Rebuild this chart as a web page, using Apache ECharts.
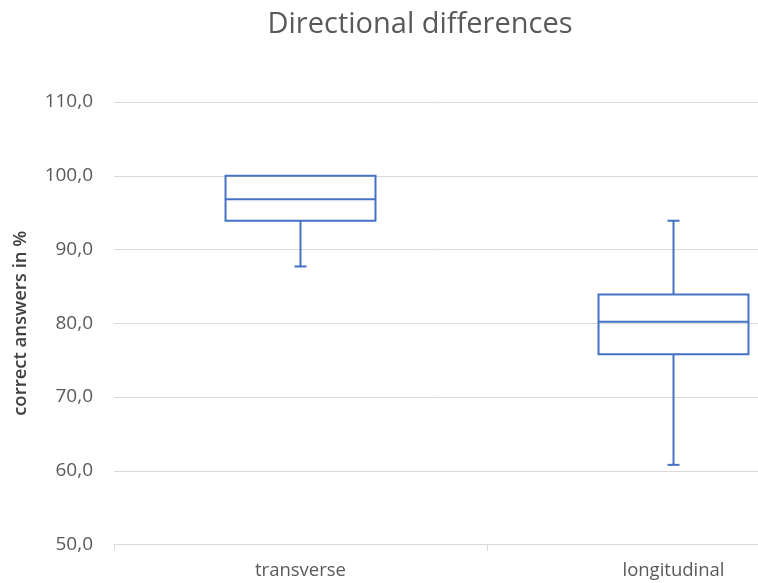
<!DOCTYPE html>
<html>
<head>
<meta charset="utf-8">
<script src="https://cdn.jsdelivr.net/npm/echarts@6/dist/echarts.min.js"></script>
<style>html,body{margin:0;padding:0;background:#fff;}#c{width:758px;height:583px;}</style>
</head>
<body>
<div id="c"></div>
<script>
var categories = ['transverse', 'longitudinal'];
var minVals = [87.7, 60.8];
var q1Vals = [93.9, 75.8];
var medianVals = [96.8, 80.2];
var q3Vals = [100.0, 83.9];
var maxVals = [100.0, 93.9];
var yTicks = [50, 60, 70, 80, 90, 100, 110];

var data = categories.map(function (c, i) {
  return [i, minVals[i], q1Vals[i], medianVals[i], q3Vals[i], maxVals[i]];
});

var color = '#4472C4';
var chart = echarts.init(document.getElementById('c'));
chart.setOption({
  animation: false,
  backgroundColor: '#fff',
  title: {
    text: 'Directional differences',
    left: 415, top: 5, textAlign: 'center',
    textStyle: { fontFamily: 'Open Sans', fontSize: 29, fontWeight: 'normal', color: '#595959' }
  },
  grid: { left: 114, top: 102, right: -102, bottom: 38.5, outerBoundsMode: 'none', containLabel: false },
  xAxis: {
    type: 'category', data: categories,
    axisLine: { lineStyle: { color: '#d9d9d9', width: 1 } },
    axisTick: { show: true, length: 6, lineStyle: { color: '#d9d9d9' } },
    axisLabel: { fontFamily: 'Open Sans', fontSize: 18.5, color: '#595959', margin: 17 }
  },
  yAxis: {
    type: 'value', min: yTicks[0], max: yTicks[yTicks.length - 1], interval: 10,
    name: 'correct answers in %', nameLocation: 'middle', nameGap: 84,
    nameTextStyle: { fontFamily: 'Open Sans', fontSize: 18.5, fontWeight: 600, color: '#404040' },
    axisLine: { show: false }, axisTick: { show: false },
    splitLine: { lineStyle: { color: '#d9d9d9', width: 1 } },
    axisLabel: { fontFamily: 'Open Sans', fontSize: 19, color: '#595959', margin: 21,
      formatter: function (v) { return v.toFixed(1).replace('.', ','); } }
  },
  series: [{
    type: 'custom',
    data: data,
    encode: { x: 0, y: [1, 2, 3, 4, 5] },
    renderItem: function (params, api) {
      var idx = api.value(0);
      var bw = api.size([1, 0])[0] * 0.402;
      var capW = 6;
      var pMin = api.coord([idx, api.value(1)]);
      var pQ1 = api.coord([idx, api.value(2)]);
      var pMed = api.coord([idx, api.value(3)]);
      var pQ3 = api.coord([idx, api.value(4)]);
      var pMax = api.coord([idx, api.value(5)]);
      var x = pMed[0];
      var st = { stroke: color, lineWidth: 2, fill: null };
      var children = [
        { type: 'rect', shape: { x: x - bw / 2, y: pQ3[1], width: bw, height: pQ1[1] - pQ3[1] }, style: { stroke: color, lineWidth: 2, fill: 'rgba(0,0,0,0)' } },
        { type: 'line', shape: { x1: x - bw / 2, y1: pMed[1], x2: x + bw / 2, y2: pMed[1] }, style: st },
        { type: 'line', shape: { x1: x, y1: pQ1[1], x2: x, y2: pMin[1] }, style: st },
        { type: 'line', shape: { x1: x - capW, y1: pMin[1], x2: x + capW, y2: pMin[1] }, style: st }
      ];
      if (api.value(5) > api.value(4)) {
        children.push({ type: 'line', shape: { x1: x, y1: pQ3[1], x2: x, y2: pMax[1] }, style: st });
        children.push({ type: 'line', shape: { x1: x - capW, y1: pMax[1], x2: x + capW, y2: pMax[1] }, style: st });
      }
      return { type: 'group', children: children };
    }
  }]
});
</script>
</body>
</html>
